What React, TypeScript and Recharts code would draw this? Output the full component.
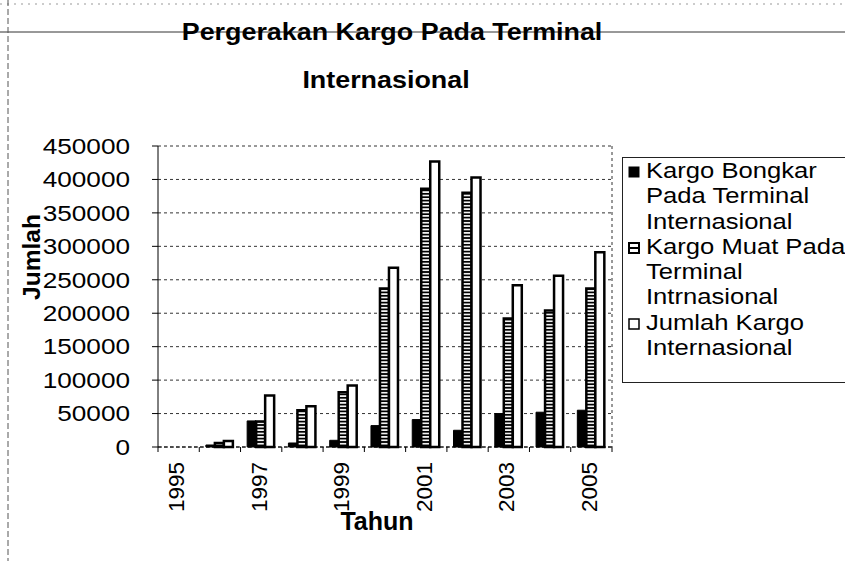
import React from 'react'
import { BarChart, Bar, XAxis, YAxis, CartesianGrid, Label } from 'recharts'

const years = ['1995', '1996', '1997', '1998', '1999', '2000', '2001', '2002', '2003', '2004', '2005']
const bongkar = [0, 3000, 39000, 6000, 10000, 32000, 41000, 25000, 50000, 52000, 55000]
const muat = [0, 6000, 38000, 55000, 82000, 237000, 386000, 380000, 192000, 204000, 237000]
const jumlah = [0, 9000, 77000, 61000, 92000, 268000, 427000, 403000, 242000, 256000, 291000]
const yTicks = [0, 50000, 100000, 150000, 200000, 250000, 300000, 350000, 400000, 450000]
const seriesNames = [
  'Kargo Bongkar Pada Terminal Internasional',
  'Kargo Muat Pada Terminal Intrnasional',
  'Jumlah Kargo Internasional',
]
const titleLines = ['Pergerakan Kargo Pada Terminal', 'Internasional']

const data = years.map((year, i) => ({
  year,
  bongkar: bongkar[i],
  muat: muat[i],
  jumlah: jumlah[i],
}))

const W = 845
const H = 561
const PLOT_LEFT = 158
const PLOT_RIGHT = 612
const PLOT_TOP = 146
const PLOT_BOTTOM = 447
const BAND = (PLOT_RIGHT - PLOT_LEFT) / years.length
// the scan is stretched sideways, so flat text gets widened a bit
const STRETCH = 1.19
const TITLE_STRETCH = 1.12

const ARIAL = 'Liberation Sans'

function YearTick(props: any) {
  const { x, y, payload, index } = props
  const half = BAND / 2
  const tx = x - 2
  const ty = y + 15
  return (
    <g>
      <line x1={x - half} x2={x - half} y1={y} y2={y + 5} stroke="#000" />
      {index === years.length - 1 && (
        <line x1={x + half} x2={x + half} y1={y} y2={y + 5} stroke="#000" />
      )}
      {index % 2 === 0 && (
        <text
          x={tx}
          y={ty}
          transform={`rotate(-90 ${tx} ${ty})`}
          textAnchor="end"
          dominantBaseline="central"
          fontFamily={ARIAL}
          fontSize={22.5}
          fill="#000"
        >
          {payload.value}
        </text>
      )}
    </g>
  )
}

function ValueTick(props: any) {
  const { x, y, payload } = props
  return (
    <text
      transform={`translate(${x} ${y}) scale(${STRETCH} 1)`}
      textAnchor="end"
      dominantBaseline="central"
      fontFamily={ARIAL}
      fontSize={22}
      fill="#000"
    >
      {payload.value}
    </text>
  )
}

function LegendMarker({ idx }: { idx: number }) {
  if (idx === 0) {
    return (
      <svg width={12} height={12} style={{ display: 'block' }}>
        <rect x={0.5} y={0.5} width={11} height={11} fill="#000" />
      </svg>
    )
  }
  if (idx === 1) {
    return (
      <svg width={12} height={12} style={{ display: 'block' }}>
        <rect x={1} y={1} width={10} height={10} fill="#fff" stroke="#000" strokeWidth={2} />
        <rect x={1} y={5} width={10} height={2} fill="#000" />
      </svg>
    )
  }
  return (
    <svg width={12} height={12} style={{ display: 'block' }}>
      <rect x={1} y={1} width={10} height={10} fill="#fff" stroke="#000" strokeWidth={1.5} />
    </svg>
  )
}

function ChartLegend() {
  return (
    <div
      style={{
        position: 'absolute',
        left: 622,
        top: 157,
        width: 226,
        height: 226,
        border: '1px solid #222',
        boxSizing: 'border-box',
        paddingTop: 1,
        fontFamily: ARIAL,
        fontSize: 21.5,
        lineHeight: '25.3px',
        color: '#000',
      }}
    >
      {seriesNames.map((name, i) => (
        <div key={name} style={{ display: 'flex', alignItems: 'flex-start' }}>
          <div style={{ marginLeft: 5, marginTop: 7, width: 12, flex: 'none' }}>
            <LegendMarker idx={i} />
          </div>
          <div
            style={{
              marginLeft: 6,
              width: 172,
              flex: 'none',
              transform: `scaleX(${STRETCH})`,
              transformOrigin: 'left top',
            }}
          >
            {name}
          </div>
        </div>
      ))}
    </div>
  )
}

export default function App() {
  return (
    <div style={{ position: 'absolute', left: 0, top: 0, width: W, height: H, background: '#fff', overflow: 'hidden' }}>
      <BarChart
        width={W}
        height={H}
        data={data}
        margin={{ top: PLOT_TOP, right: W - PLOT_RIGHT, bottom: 44, left: 0 }}
        barGap={0}
        barCategoryGap="16%"
      >
        <defs>
          <pattern id="hatch" width={6} height={3.4} patternUnits="userSpaceOnUse">
            <rect x={0} y={0} width={6} height={3.4} fill="#000" />
            <rect x={0} y={0.9} width={6} height={1.6} fill="#fff" />
          </pattern>
        </defs>
        <CartesianGrid
          stroke="#333"
          strokeDasharray="3 3"
          vertical={true}
          verticalPoints={[PLOT_RIGHT]}
        />
        <XAxis
          dataKey="year"
          interval={0}
          tickLine={false}
          tickSize={0}
          tickMargin={0}
          height={H - 44 - PLOT_BOTTOM}
          axisLine={{ stroke: '#000', strokeDasharray: '4 2' }}
          tick={YearTick}
        >
          <Label
            content={() => (
              <text x={377} y={530} textAnchor="middle" fontFamily={ARIAL} fontWeight="bold" fontSize={25} fill="#000">
                Tahun
              </text>
            )}
          />
        </XAxis>
        <YAxis
          width={PLOT_LEFT}
          domain={[0, 450000]}
          ticks={yTicks}
          interval={0}
          tickSize={6}
          tickMargin={22}
          axisLine={{ stroke: '#000' }}
          tickLine={{ stroke: '#000' }}
          tick={ValueTick}
        >
          <Label
            content={() => (
              <text
                x={31}
                y={257}
                transform="rotate(-90 31 257)"
                textAnchor="middle"
                dominantBaseline="central"
                fontFamily={ARIAL}
                fontWeight="bold"
                fontSize={24.5}
                fill="#000"
              >
                Jumlah
              </text>
            )}
          />
        </YAxis>
        <Bar dataKey="bongkar" name={seriesNames[0]} fill="#000" stroke="#000" strokeWidth={1} isAnimationActive={false} />
        <Bar dataKey="muat" name={seriesNames[1]} fill="url(#hatch)" stroke="#000" strokeWidth={2.5} isAnimationActive={false} />
        <Bar dataKey="jumlah" name={seriesNames[2]} fill="#fff" stroke="#000" strokeWidth={2.5} isAnimationActive={false} />
      </BarChart>

      <svg width={W} height={H} style={{ position: 'absolute', left: 0, top: 0, pointerEvents: 'none' }}>
        <line x1={0} x2={W} y1={4} y2={4} stroke="#999" strokeDasharray="2 5" />
        <line x1={0} x2={W} y1={32} y2={32} stroke="#333" />
        <line x1={8} x2={8} y1={0} y2={H} stroke="#555" strokeDasharray="6 3" />
        <text
          transform={`translate(392 40) scale(${TITLE_STRETCH} 1)`}
          textAnchor="middle"
          fontFamily={ARIAL}
          fontWeight="bold"
          fontSize={24}
          fill="#000"
        >
          {titleLines[0]}
        </text>
        <text
          transform={`translate(386 88) scale(${TITLE_STRETCH} 1)`}
          textAnchor="middle"
          fontFamily={ARIAL}
          fontWeight="bold"
          fontSize={24}
          fill="#000"
        >
          {titleLines[1]}
        </text>
      </svg>

      <ChartLegend />
    </div>
  )
}
